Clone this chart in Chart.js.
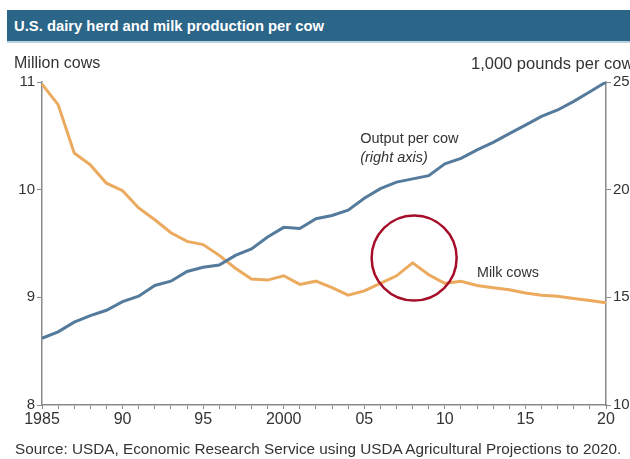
<!DOCTYPE html>
<html>
<head>
<meta charset="utf-8">
<script src="https://cdn.jsdelivr.net/npm/chart.js@4"></script>
<style>
  body { margin: 0; width: 630px; height: 459px; background: #fff; overflow: hidden; position: relative; font-family: "Liberation Sans", Arial, sans-serif; color: #333; }
  #title { position: absolute; left: 7px; top: 10px; width: 623px; height: 33px; background: #2b6588; color: #fff; font-weight: bold; font-size: 14.8px; line-height: 33px; padding-left: 7px; box-sizing: border-box; border-bottom: 2px solid #b9d2e0; z-index: 2; }
  .lbl { position: absolute; font-size: 16px; white-space: nowrap; z-index: 2; }
  #chartWrap { position: absolute; left: 0; top: 0; width: 630px; height: 459px; }
</style>
</head>
<body>
<div id="title">U.S. dairy herd and milk production per cow</div>
<div class="lbl" style="left:14px; top:54px;">Million cows</div>
<div class="lbl" style="left:471px; top:54px; font-size:16.5px;">1,000 pounds per cow</div>
<div class="lbl" style="left:15px; top:440px; font-size:15.3px;">Source: USDA, Economic Research Service using USDA Agricultural Projections to 2020.</div>
<div id="chartWrap"><canvas id="dairyChart" width="630" height="459"></canvas></div>
<script>
const years = [];
for (let y = 1985; y <= 2020; y++) years.push(y);

// million cows (left axis)
const milkCows = [10.98, 10.79, 10.34, 10.23, 10.06, 9.99, 9.83, 9.72, 9.60, 9.52,
    9.49, 9.39, 9.27, 9.17, 9.16, 9.20, 9.12, 9.15, 9.09, 9.02,
    9.06, 9.13, 9.20, 9.32, 9.21, 9.13, 9.15, 9.11, 9.09, 9.07,
    9.04, 9.02, 9.01, 8.99, 8.97, 8.95];

// 1,000 pounds per cow (right axis)
const outputPerCow = [13.1, 13.4, 13.85, 14.15, 14.4, 14.8, 15.05, 15.55, 15.75, 16.2,
    16.4, 16.5, 16.95, 17.25, 17.8, 18.25, 18.2, 18.65, 18.8, 19.05,
    19.6, 20.05, 20.35, 20.5, 20.65, 21.2, 21.45, 21.85, 22.2, 22.6,
    23.0, 23.4, 23.7, 24.1, 24.55, 25.0];

const xTickText = { 1985: '1985', 1990: '90', 1995: '95', 2000: '2000', 2005: '05', 2010: '10', 2015: '15', 2020: '20' };

const axisGrey = '#8a8a8a';
const tickFont = { family: '"Liberation Sans", Arial, sans-serif', size: 15 };

// labels and the highlight circle, placed from scale values
const notes = {
    id: 'notes',
    afterDatasetsDraw(chart) {
        const c = chart.ctx, x = chart.scales.x, yl = chart.scales.yLeft, yr = chart.scales.yRight;
        c.save();
        c.fillStyle = '#333';
        c.textBaseline = 'middle';
        c.font = '14.5px "Liberation Sans", Arial, sans-serif';
        c.fillText('Output per cow', x.getPixelForValue(2004 - 1985) + 12, yr.getPixelForValue(22.35));
        c.font = 'italic 14.5px "Liberation Sans", Arial, sans-serif';
        c.fillText('(right axis)', x.getPixelForValue(2004 - 1985) + 12, yr.getPixelForValue(21.45));
        c.font = '14.3px "Liberation Sans", Arial, sans-serif';
        c.fillText('Milk cows', x.getPixelForValue(2011 - 1985) + 16, yl.getPixelForValue(9.23));
        c.strokeStyle = '#a50d28';
        c.lineWidth = 2.5;
        c.beginPath();
        c.arc(x.getPixelForValue(2008 - 1985) + 1.5, yl.getPixelForValue(9.365), 42.5, 0, Math.PI * 2);
        c.stroke();
        c.restore();
    }
};

new Chart(document.getElementById('dairyChart'), {
    type: 'line',
    data: {
        labels: years,
        datasets: [{
            label: 'Output per cow',
            data: outputPerCow,
            yAxisID: 'yRight',
            borderColor: '#557b9c',
            borderWidth: 3,
            pointRadius: 0,
            tension: 0
        }, {
            label: 'Milk cows',
            data: milkCows,
            yAxisID: 'yLeft',
            borderColor: '#ebaa5e',
            borderWidth: 3,
            pointRadius: 0,
            tension: 0
        }]
    },
    options: {
        responsive: false,
        animation: false,
        devicePixelRatio: 1,
        layout: { padding: { top: 82, left: 0, right: 0, bottom: 0 } },
        plugins: { legend: { display: false }, tooltip: { enabled: false } },
        scales: {
            x: {
                type: 'category',
                offset: false,
                afterFit: s => { s.height = 54; },
                border: { display: true, color: axisGrey, width: 1.5 },
                grid: { display: true, drawOnChartArea: false, drawTicks: true, tickLength: 4, color: axisGrey, lineWidth: 1 },
                ticks: {
                    autoSkip: false,
                    maxRotation: 0,
                    padding: 1,
                    color: '#333',
                    font: { family: '"Liberation Sans", Arial, sans-serif', size: 16 },
                    callback: function (v, i) { return xTickText[years[i]] || ''; }
                }
            },
            yLeft: {
                position: 'left',
                min: 8, max: 11,
                afterFit: s => { s.width = 42; },
                border: { display: true, color: axisGrey, width: 1.5 },
                grid: { display: true, drawOnChartArea: false, tickLength: 5, color: axisGrey },
                ticks: { stepSize: 1, padding: 2, color: '#333', font: tickFont }
            },
            yRight: {
                position: 'right',
                min: 10, max: 25,
                afterFit: s => { s.width = 24; },
                border: { display: true, color: axisGrey, width: 1.5 },
                grid: { display: true, drawOnChartArea: false, tickLength: 5, color: axisGrey },
                ticks: { stepSize: 5, padding: 2, color: '#333', font: tickFont }
            }
        }
    },
    plugins: [notes]
});
</script>
</body>
</html>
